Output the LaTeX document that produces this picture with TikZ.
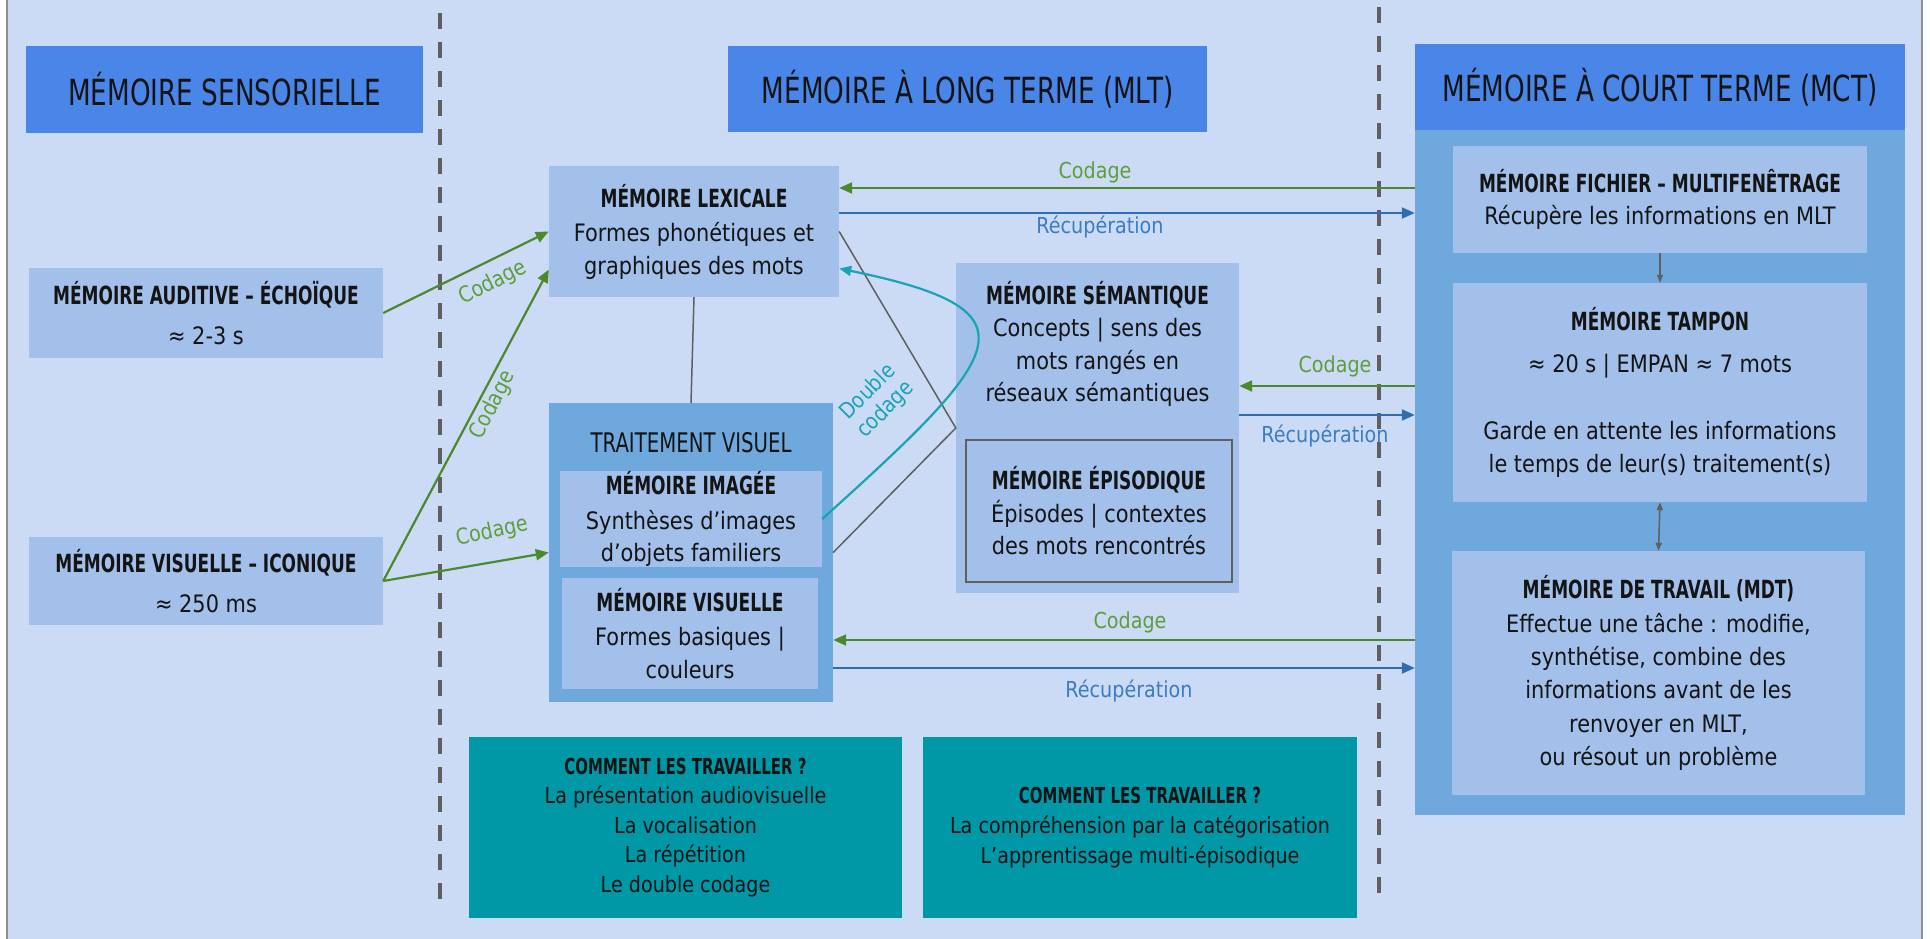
\documentclass[tikz,border=0pt]{standalone}
\usepackage{fontspec}
\setmainfont[FakeStretch=0.87]{DejaVu Sans}
\newfontfamily\hdfont[FakeStretch=0.73]{DejaVu Sans}
\newfontfamily\bdfont[FakeStretch=0.68]{DejaVu Sans Bold}
\usetikzlibrary{arrows.meta,calc}
\definecolor{bgc}{HTML}{CBDBF6}
\definecolor{hdc}{HTML}{4A86E8}
\definecolor{boxc}{HTML}{A2C0EA}
\definecolor{midc}{HTML}{6FA8DC}
\definecolor{tealc}{HTML}{0097A7}
\definecolor{grn}{HTML}{4B8A2C}
\definecolor{grnl}{HTML}{5E9E3A}
\definecolor{blu}{HTML}{2F6DB0}
\definecolor{blul}{HTML}{3C7CC0}
\definecolor{tealln}{HTML}{1AA3B3}
\definecolor{gryl}{HTML}{5F5F5F}
\definecolor{txt}{HTML}{141414}
\newcommand\mbody{\fontsize{24}{32.5}\selectfont}
\newcommand\mttl{\bdfont\fontsize{25}{32.5}\selectfont}
\newcommand\mhead{\hdfont\fontsize{36}{40}\selectfont}
\newcommand\mlab{\fontsize{22}{26}\selectfont}
\newcommand\mteal{\fontsize{22}{29.5}\selectfont}
\newcommand\mtealb{\bdfont\fontsize{22}{29.5}\selectfont}
\begin{document}
\begin{tikzpicture}[x=1pt,y=-1pt,
  box/.style={fill=boxc, inner sep=0pt, align=center, text=txt, font=\mbody},
  hdbox/.style={fill=hdc, inner sep=0pt, align=center, text=txt, font=\mhead},
  midbox/.style={fill=midc, inner sep=0pt},
  tealbox/.style={fill=tealc, inner sep=0pt, align=center, text=txt, font=\mteal},
  tip/.style={-{Triangle[length=13pt,width=11pt]}},
  garr/.style={draw=grn, line width=2.2pt, tip},
  barr/.style={draw=blu, line width=2.2pt, tip},
  tarr/.style={draw=tealln, line width=2.2pt, -{Triangle[length=12pt,width=10pt]}},
  glab/.style={text=grnl, font=\mlab, inner sep=0pt},
  blab/.style={text=blul, font=\mlab, inner sep=0pt},
  gline/.style={draw=gryl, line width=1.5pt},
  divider/.style={draw=gryl, line width=3.2pt, dash pattern=on 16pt off 13pt},
]
\useasboundingbox (0,0) rectangle (1930,939);
\fill[white] (0,0) rectangle (1930,939);
\fill[bgc] (7,0) rectangle (1922,939);
\draw[gryl!70, line width=1.5pt] (7,0) -- (7,939) (1922,0) -- (1922,939);

% dividers
\draw[divider] (440,13) -- (440,899);
\draw[divider] (1379,7) -- (1379,895);

% headers
\node[hdbox, minimum width=397pt, minimum height=87pt] (hsens) at (224.5,89.5) {MÉMOIRE SENSORIELLE};
\node[hdbox, minimum width=479pt, minimum height=86pt] (hmlt) at (967.5,89) {MÉMOIRE À LONG TERME (MLT)};
\node[midbox, minimum width=490pt, minimum height=771pt] (mctbody) at (1660,429.5) {};
\node[hdbox, minimum width=490pt, minimum height=86pt] (hmct) at (1660,87) {MÉMOIRE À COURT TERME (MCT)};

% sensory boxes
\node[box, minimum width=354pt, minimum height=90pt] (aud) at (206,313) {{\mttl MÉMOIRE AUDITIVE – ÉCHOÏQUE}\\[7pt] ≈ 2-3 s};
\node[box, minimum width=354pt, minimum height=88pt] (ico) at (206,581) {{\mttl MÉMOIRE VISUELLE – ICONIQUE}\\[7pt] ≈ 250 ms};

% long term
\node[box, minimum width=290pt, minimum height=131pt] (lex) at (694,231.5) {{\mttl MÉMOIRE LEXICALE}\\[2pt] Formes phonétiques et\\ graphiques des mots};
\node[midbox, minimum width=284pt, minimum height=299pt] (trait) at (691,552.5) {};
\node[text=txt, font=\hdfont\fontsize{27}{30}\selectfont, inner sep=0pt] (ttv) at (691,443) {TRAITEMENT VISUEL};
\node[box, minimum width=262pt, minimum height=96pt] (img) at (691,519) {{\mttl MÉMOIRE IMAGÉE}\\[2pt] Synthèses d'images\\ d'objets familiers};
\node[box, minimum width=256pt, minimum height=111pt] (vis) at (690,633.5) {{\mttl MÉMOIRE VISUELLE}\\[2pt] Formes basiques |\\ couleurs};

\node[box, minimum width=283pt, minimum height=330pt] (sem) at (1097.5,428) {};
\node[text=txt, font=\mbody, align=center, inner sep=0pt] (semtxt) at (1097.5,344) {{\mttl MÉMOIRE SÉMANTIQUE}\\ Concepts | sens des\\ mots rangés en\\ réseaux sémantiques};
\node[box, draw=gryl, line width=2pt, minimum width=266pt, minimum height=142pt] (epi) at (1099,511) {{\mttl MÉMOIRE ÉPISODIQUE}\\ Épisodes | contextes\\ des mots rencontrés};

% short term
\node[box, minimum width=414pt, minimum height=107pt] (fich) at (1660,199.5) {{\mttl MÉMOIRE FICHIER – MULTIFENÊTRAGE}\\ Récupère les informations en MLT};
\node[box, minimum width=414pt, minimum height=219pt] (tamp) at (1660,392.5) {{\mttl MÉMOIRE TAMPON}\\[9pt] ≈ 20 s | EMPAN ≈ 7 mots\\[35pt] Garde en attente les informations\\ le temps de leur(s) traitement(s)};
\node[box, font=\fontsize{24}{33.4}\selectfont, minimum width=413pt, minimum height=244pt] (trav) at (1658.5,673) {{\mttl MÉMOIRE DE TRAVAIL (MDT)}\\ Effectue une tâche : modifie,\\ synthétise, combine des\\ informations avant de les\\ renvoyer en MLT,\\ ou résout un problème};

% teal boxes
\node[tealbox, minimum width=433pt, minimum height=181pt] (teal1) at (685.5,827.5) {{\mtealb COMMENT LES TRAVAILLER ?}\\ La présentation audiovisuelle\\ La vocalisation\\ La répétition\\ Le double codage};
\node[tealbox, font=\fontsize{22}{30}\selectfont, minimum width=434pt, minimum height=181pt] (teal2) at (1140,827.5) {{\mtealb COMMENT LES TRAVAILLER ?}\\ La compréhension par la catégorisation\\ L'apprentissage multi-épisodique};

% gray links
\draw[gline] (lex.south) -- (trait.north);
\draw[gline] (lex.east) -- (sem.west) -- (trait.east);
\draw[gline, -{Triangle[length=8pt,width=6pt]}] (fich.south) -- (tamp.north);
\draw[gline, {Triangle[length=8pt,width=6pt]}-{Triangle[length=8pt,width=6pt]}] (tamp.south) -- (trav.north);

% sensory -> MLT
\draw[garr] (aud.east) -- (lex.west);
\draw[garr] (ico.east) -- ([yshift=-38pt]lex.west);
\draw[garr] (ico.east) -- (trait.west);
\node[glab, rotate=27] (la1) at (493,283) {Codage};
\node[glab, rotate=63] (la2) at (493,405) {Codage};
\node[glab, rotate=12] (la3) at (492,532) {Codage};

% double codage
\draw[tarr] (img.east) .. controls (1010,350) and (1040,310) .. ([yshift=-37pt]lex.east);
\node[text=tealln, font=\fontsize{22}{25}\selectfont, align=center, rotate=45, inner sep=0pt] (ldc) at (877,401) {Double\\codage};

% MLT <-> MCT
\draw[garr] (mctbody.west |- 0,188) -- (lex.east |- 0,188);
\draw[barr] (lex.east |- 0,213) -- (mctbody.west |- 0,213);
\draw[garr] (mctbody.west |- 0,386) -- (sem.east |- 0,386);
\draw[barr] (sem.east |- 0,415) -- (mctbody.west |- 0,415);
\draw[garr] (mctbody.west |- 0,640) -- (trait.east |- 0,640);
\draw[barr] (trait.east |- 0,668) -- (mctbody.west |- 0,668);
\node[glab] (lc1) at (1095,172) {Codage};
\node[blab] (lr1) at (1100,227) {Récupération};
\node[glab] (lc2) at (1335,366) {Codage};
\node[blab] (lr2) at (1325,436) {Récupération};
\node[glab] (lc3) at (1130,622) {Codage};
\node[blab] (lr3) at (1129,691) {Récupération};
\end{tikzpicture}
\end{document}
